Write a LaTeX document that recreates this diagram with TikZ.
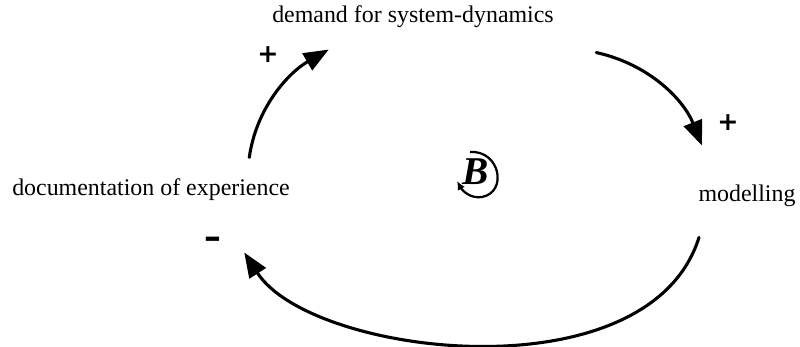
\documentclass[tikz,border=0pt]{standalone}
\usepackage{fontspec}
\setmainfont{Liberation Serif}
\newfontfamily\signfont{DejaVu Sans}
\usetikzlibrary{arrows.meta}

\begin{document}
\begin{tikzpicture}[x=0.025cm, y=-0.025cm, line width=2.2pt,
  var/.style={inner sep=0pt, font=\fontsize{17}{20}\selectfont},
  link/.style={-{Triangle[length=0.62cm, width=0.48cm]}, line cap=round},
  sign/.style={font=\signfont\bfseries\fontsize{18}{18}\selectfont}]

  \useasboundingbox (0,0) rectangle (800,347);

  % the three variables of the loop
  \node[var] (demand) at (413,17) {demand for system-dynamics};
  \node[var] (doc) at (151,190) {documentation of experience};
  \node[var] (model) at (747,196) {modelling};

  % doc -> demand
  \draw[link] ([shift={(-42,-20)}]doc.north east) .. controls +(7,-50) and +(-40,23) .. ([shift={(58,20)}]demand.south west);
  \node[sign] (p1) at (268,55) {+};

  % demand -> modelling
  \draw[link] ([shift={(41,23)}]demand.south east) .. controls +(54,12) and +(-18,-45) .. ([shift={(5,-38)}]model.north west);
  \node[sign] (p2) at (728,123) {+};

  % modelling -> doc, round the bottom
  \draw[link] ([shift={(2,29)}]model.south west) .. controls +(-50,160) and +(67,104) .. ([shift={(-47,50)}]doc.south east);
  \node[sign, font=\signfont\bfseries\fontsize{24}{24}\selectfont] (m1) at (213,243) {–};

  % balancing loop sign
  \node[font=\fontsize{28}{28}\selectfont\bfseries\itshape] (loopB) at (476,172) {B};
  \draw[line width=1.6pt, -{Latex[length=0.22cm, width=0.2cm]}] (470,152) .. controls (500,150) and (508,192) .. (482,197) .. controls (470,199) and (462,190) .. (457,181);

\end{tikzpicture}
\end{document}
